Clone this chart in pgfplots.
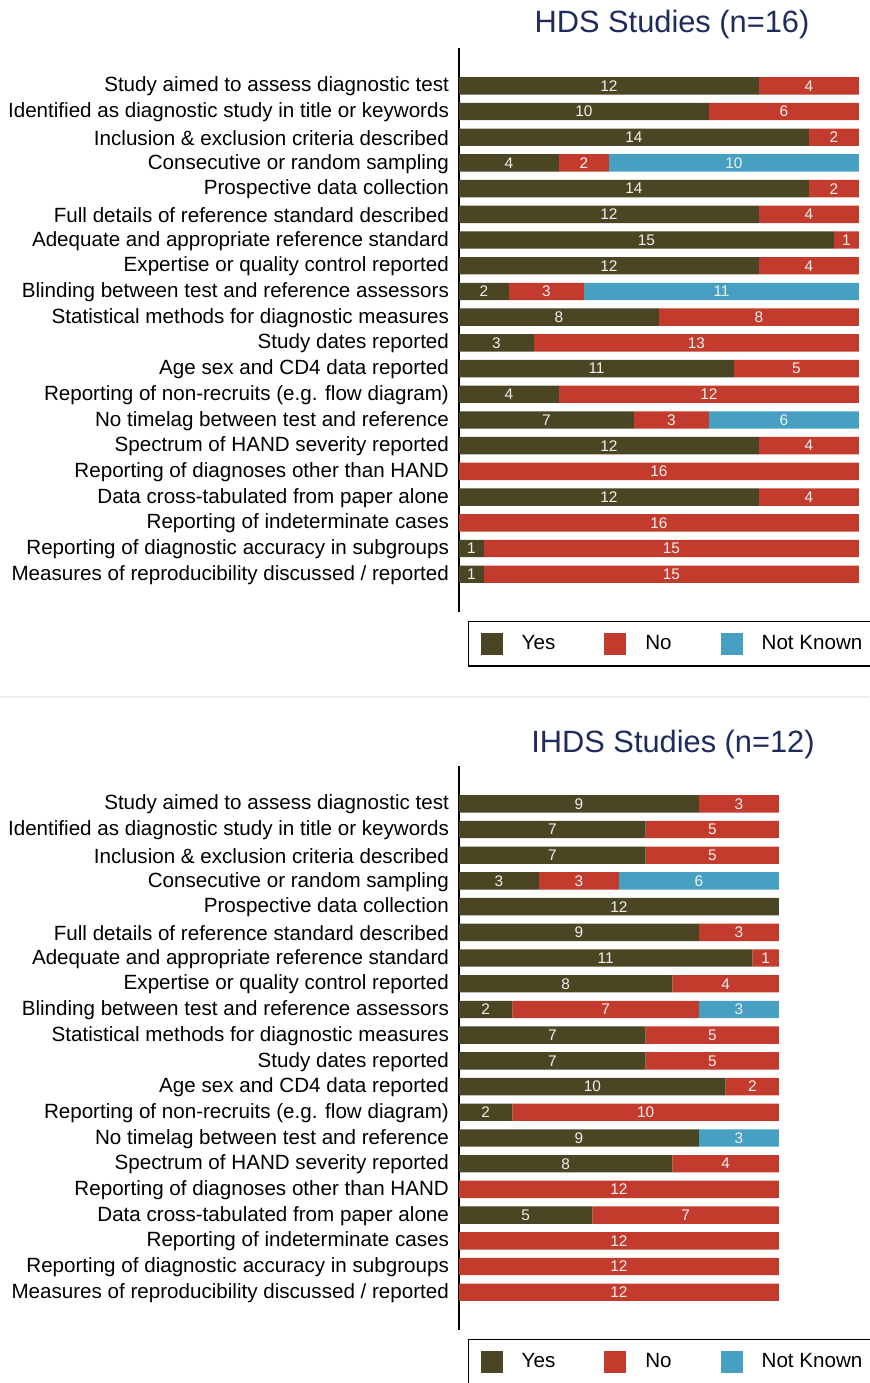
\documentclass[border=0pt]{standalone}
\usepackage{pgfplots}
\pgfplotsset{compat=1.18}
\usepackage{pgfplotstable}
\usepackage{fontspec}
\setmainfont{Liberation Sans}
\definecolor{yesc}{RGB}{74,69,34}
\definecolor{noc}{RGB}{195,59,45}
\definecolor{nkc}{RGB}{71,159,193}
\definecolor{titc}{RGB}{30,43,92}
\definecolor{numc}{RGB}{240,240,240}

\pgfplotstableread{
Yes No NK
12 4 0
10 6 0
14 2 0
4 2 10
14 2 0
12 4 0
15 1 0
12 4 0
2 3 11
8 8 0
3 13 0
11 5 0
4 12 0
7 3 6
12 4 0
0 16 0
12 4 0
0 16 0
1 15 0
1 15 0
}\hdstable

\pgfplotstableread{
Yes No NK
9 3 0
7 5 0
7 5 0
3 3 6
12 0 0
9 3 0
11 1 0
8 4 0
2 7 3
7 5 0
7 5 0
10 2 0
2 10 0
9 0 3
8 4 0
0 12 0
5 7 0
0 12 0
0 12 0
0 12 0
}\ihdstable

\pgfplotsset{
  qstyle/.style={
    xbar stacked,
    scale only axis,
    width=200pt, height=282pt,
    xmin=0,
    ymin=-1.47, ymax=20.47,
    y dir=reverse,
    bar width=8.7pt,
    axis x line=none,
    axis y line*=left,
    axis line style={line width=0.75pt, black},
    ytick={0,...,19},
    yticklabels={Study aimed to assess diagnostic test,
      Identified as diagnostic study in title or keywords,
      Inclusion \& exclusion criteria described,
      Consecutive or random sampling,
      Prospective data collection,
      Full details of reference standard described,
      Adequate and appropriate reference standard,
      Expertise or quality control reported,
      Blinding between test and reference assessors,
      Statistical methods for diagnostic measures,
      Study dates reported,
      Age sex and CD4 data reported,
      Reporting of non-recruits (e.g. flow diagram),
      No timelag between test and reference,
      Spectrum of HAND severity reported,
      Reporting of diagnoses other than HAND,
      Data cross-tabulated from paper alone,
      Reporting of indeterminate cases,
      Reporting of diagnostic accuracy in subgroups,
      Measures of reproducibility discussed / reported},
    major tick length=0pt,
    yticklabel style={font=\fontsize{10.3}{12}\selectfont, xshift=-1.5pt, yshift=-0.4pt},
    clip=false,
    legend columns=3,
    legend style={at={(0,0)}, anchor=north west, xshift=4.5pt, yshift=-4.5pt,
      draw=black, line width=0.7pt, inner xsep=6pt, inner ysep=4.8pt,
      font=\fontsize{10.3}{12}\selectfont,
      /tikz/every odd column/.append style={column sep=7.5pt},
      /tikz/every even column/.append style={column sep=22.5pt}},
    legend image code/.code={\path[#1,draw=none] (0pt,-5.5pt) rectangle (11pt,5.5pt);},
    point meta=explicit symbolic,
    nodes near coords={\ifnum\pgfplotspointmeta>0 \pgfplotspointmeta\fi},
    every node near coord/.append style={anchor=center, font=\fontsize{7.7}{8}\selectfont, text=numc},
  },
}

\begin{document}
\begin{tikzpicture}
\node[font=\fontsize{15.4}{18}\selectfont, text=titc] at (336pt,-12.5pt) {HDS Studies (n=16)};
\begin{axis}[qstyle, xmax=16, at={(229.5pt,-306pt)}, anchor=south west]
\addplot[fill=yesc, draw=none] table[x=Yes, y expr=\coordindex, meta=Yes] {\hdstable};
\addplot[fill=noc, draw=none] table[x=No, y expr=\coordindex, meta=No] {\hdstable};
\addplot[fill=nkc, draw=none] table[x=NK, y expr=\coordindex, meta=NK] {\hdstable};
\legend{Yes,No,Not Known}
\end{axis}

\draw[color=black!7, line width=1pt] (0,-348.5pt) -- (434.5pt,-348.5pt);

\node[font=\fontsize{15.4}{18}\selectfont, text=titc] at (336.5pt,-372.5pt) {IHDS Studies (n=12)};
\begin{axis}[qstyle, xmax=15, at={(229.5pt,-665pt)}, anchor=south west]
\addplot[fill=yesc, draw=none] table[x=Yes, y expr=\coordindex, meta=Yes] {\ihdstable};
\addplot[fill=noc, draw=none] table[x=No, y expr=\coordindex, meta=No] {\ihdstable};
\addplot[fill=nkc, draw=none] table[x=NK, y expr=\coordindex, meta=NK] {\ihdstable};
\legend{Yes,No,Not Known}
\end{axis}

\pgfresetboundingbox
\path[use as bounding box] (0,0) rectangle (434.5pt,-691.5pt);
\end{tikzpicture}
\end{document}
